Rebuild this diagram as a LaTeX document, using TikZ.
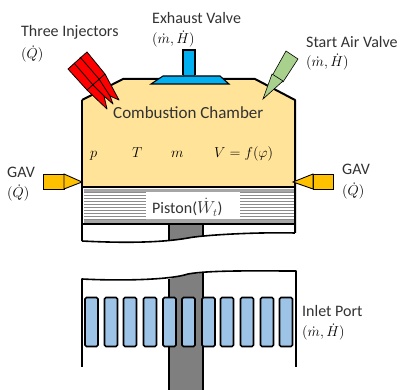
\documentclass[tikz,border=0pt]{standalone}
\usepackage{fontspec}
\usepackage{amsmath}
\setmainfont{Carlito}
\definecolor{chamber}{RGB}{255,227,153}
\definecolor{txt}{RGB}{50,50,50}
\definecolor{blueport}{RGB}{157,195,230}
\definecolor{exh}{RGB}{0,176,240}
\definecolor{airv}{RGB}{169,209,142}
\definecolor{gav}{RGB}{255,192,0}
\definecolor{rod}{RGB}{127,127,127}
\tikzset{
 lbl/.style={inner sep=0pt,text=txt,font=\fontsize{16pt}{18pt}\selectfont,align=left,anchor=west},
 mlbl/.style={lbl,text=black,font=\fontsize{14.5pt}{18pt}\selectfont},
 vlbl/.style={inner sep=0pt,text=black,anchor=base west,font=\fontsize{15pt}{18pt}\selectfont},
 wall/.style={draw=black,line width=2pt,line join=round},
 thin/.style={draw=black,line width=0.8pt,line join=miter},
 portbox/.style={draw=black,line width=1.6pt,fill=blueport,rounded corners=1.5pt,minimum width=13pt,minimum height=49pt,inner sep=0pt}
}
\begin{document}
\begin{tikzpicture}[x=1pt,y=-1pt]
\useasboundingbox (0,0) rectangle (400,390);
% chamber
\fill[chamber] (82,100) -- (123,79) -- (255,79) -- (295,100) -- (295,187) -- (82,187) -- cycle;
% piston
\fill[white] (82,187) rectangle (295,225);
\fill[white!65!black] (84,189) rectangle (294,192);
\fill[white!65!black] (84,219) rectangle (294,223);
\foreach \y in {192,195,...,219}{
 \fill[white!55!black] (84,\y) rectangle (146,\y+1.2);
 \fill[white!55!black] (240,\y) rectangle (294,\y+1.2);
}
% rod upper
\fill[rod] (170,225) rectangle (203,237.5);
\fill[rod] (170,237) -- (203,236) -- (188,238.5) -- (170,240.5) -- cycle;
\draw[wall] (82,187) -- (295,187);
\draw[wall] (82,224) -- (295,224);
\draw[wall] (82,100) -- (123,79) -- (255,79) -- (295,100) -- (295,233);
\draw[wall] (82,100) -- (82,241);
\draw[wall,line width=1.6pt] (82,241) .. controls (120,243) and (160,243) .. (188,238) .. controls (200,235.5) and (250,232) .. (295,233);
\draw[wall,line width=1.6pt] (169,224) -- (169,241);
\draw[wall,line width=1.6pt] (203,224) -- (203,236);
% lower
\fill[rod] (169,279) -- (188,274) -- (203,273) -- (203,390) -- (169,390) -- cycle;
\draw[wall,line width=1.6pt] (82,367) -- (82,279) .. controls (120,281) and (170,280) .. (188,274) .. controls (210,270) and (260,271) .. (296,271) -- (296,367);
\draw[wall,line width=1.6pt] (169,279) -- (169,390);
\draw[wall,line width=1.6pt] (203,273) -- (203,390);
\foreach \x [count=\i] in {91.5,111,130,150,169.5,188.5,208.5,227,247,267,286}{
 \node[portbox] (p\i) at (\x,322) {};
}
% exhaust valve
\fill[exh] (183,50) rectangle (195,76);
\draw[thin,line width=1.1pt] (183,75) -- (183,50) -- (195,50) -- (195,75);
\fill[exh,draw=black,line width=1.1pt] (151,84) -- (163,76) -- (220,76) -- (229,84) -- cycle;
% injectors
\fill[red,draw=black,line width=0.8pt,line join=round] (68,69) -- (87,52) -- (105,74) -- (119,100) -- (110,96) -- (113,104) -- (104,96) -- (107,109) -- (87,90) -- cycle;
\draw[thin] (74,63) -- (93,85) -- (104,96);
\draw[thin] (80,57) -- (99,79) -- (110,96);
\draw[thin] (87,90) -- (105,74);
% start air valve
\fill[airv,draw=black,line width=0.6pt] (272,76) -- (286,51) -- (298,59) -- (283,82) -- cycle;
\fill[airv,draw=black,line width=0.6pt] (272,74) -- (283,81) -- (263,99) -- cycle;
% GAVs
\fill[gav,draw=black,line width=0.9pt] (43,174) rectangle (64,189);
\fill[gav,draw=black,line width=0.9pt] (64,174) -- (82,182) -- (64,189) -- cycle;
\fill[gav,draw=black,line width=0.9pt] (313,174) rectangle (333,189);
\fill[gav,draw=black,line width=0.9pt] (313,174) -- (293,182) -- (313,189) -- cycle;
% labels
\node[lbl] (t1) at (21,32) {Three Injectors};
\node[mlbl] (t2) at (21,54) {$(\dot Q)$};
\node[lbl] (t3) at (152,18) {Exhaust Valve};
\node[mlbl] (t4) at (152,39) {$(\dot m,\dot H)$};
\node[lbl] (t5) at (306,42) {Start Air Valve};
\node[mlbl] (t6) at (306,62) {$(\dot m,\dot H)$};
\node[lbl,font=\fontsize{17pt}{18pt}\selectfont] (t7) at (113,113) {Combustion Chamber};
\node[vlbl] (t8) at (90,158) {$p$};
\node[vlbl] (t9) at (132,158) {$T$};
\node[vlbl] (t10) at (171,158) {$m$};
\node[vlbl] (t11) at (214,158) {$V=f(\varphi)$};
\node[lbl] (t12) at (7,172) {GAV};
\node[mlbl] (t13) at (7,193) {$(\dot Q)$};
\node[lbl] (t14) at (342,169) {GAV};
\node[mlbl] (t15) at (342,191) {$(\dot Q)$};
\node[lbl] (t16) at (152,207) {Piston($\dot W_t$)};
\node[lbl] (t17) at (302,311) {Inlet Port};
\node[mlbl] (t18) at (302,332) {$(\dot m,\dot H)$};
\end{tikzpicture}
\end{document}
